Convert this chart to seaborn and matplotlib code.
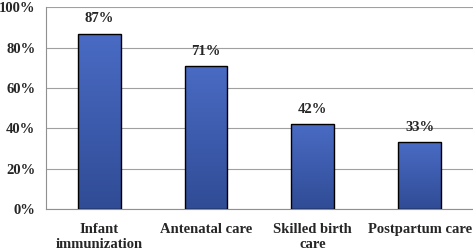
import numpy as np
import pandas as pd
import seaborn as sns
import matplotlib.pyplot as plt
from matplotlib.colors import LinearSegmentedColormap

sns.set_style("white")
plt.rcParams['font.family'] = ['Liberation Serif', 'DejaVu Serif']

categories = ["Infant\nimmunization", "Antenatal care", "Skilled birth\ncare", "Postpartum care"]
values = [87, 71, 42, 33]

df = pd.DataFrame({"service": categories, "pct": values})

fig = plt.figure(figsize=(4.73, 2.52), dpi=100)
ax = fig.add_axes([0.097, 0.171, 0.903, 0.80])

sns.barplot(data=df, x="service", y="pct", color="#4466bb", width=0.4,
            edgecolor="black", linewidth=1.0, ax=ax, zorder=3)

# gradient fill inside each bar
cmap = LinearSegmentedColormap.from_list("bar", ["#304c96", "#4a6bc4"])
grad = np.linspace(0, 1, 100).reshape(-1, 1)
for p in ax.patches:
    x0, y0 = p.get_x(), p.get_y()
    w, h = p.get_width(), p.get_height()
    im = ax.imshow(grad, cmap=cmap, origin="lower", aspect="auto",
                   extent=[x0, x0 + w, y0, y0 + h], zorder=3)
    im.set_clip_path(p)
    p.set_facecolor("none")
    p.set_zorder(4)
    ax.text(x0 + w / 2, h + 4, f"{int(round(h))}%", ha="center", va="bottom",
            fontsize=10.5, fontweight="bold")

ax.set_xlim(-0.5, 3.5)
ax.set_ylim(0, 100)
ax.set_yticks(range(0, 101, 20))
ax.set_yticklabels([f"{v}%" for v in range(0, 101, 20)], fontsize=10.5, fontweight="bold")
ax.set_xticks(range(4))
ax.set_xticklabels(categories, fontsize=10.5, fontweight="bold", linespacing=1.2)
ax.set_xlabel("")
ax.set_ylabel("")

ax.grid(axis="y", color="#a0a0a0", linewidth=0.8, zorder=0)
ax.set_axisbelow(True)
for s in ["top", "right"]:
    ax.spines[s].set_visible(False)
for s in ["left", "bottom"]:
    ax.spines[s].set_color("#909090")
    ax.spines[s].set_linewidth(0.8)

ax.tick_params(axis="y", length=4.5, color="#909090", width=0.8, pad=3)
ax.tick_params(axis="x", length=0, pad=10)
# category boundary ticks on the bottom axis
ax.set_xticks([0.5, 1.5, 2.5, 3.5], minor=True)
ax.tick_params(axis="x", which="minor", length=4, color="#909090", width=0.8)

fig.savefig("out.png", dpi=100)
